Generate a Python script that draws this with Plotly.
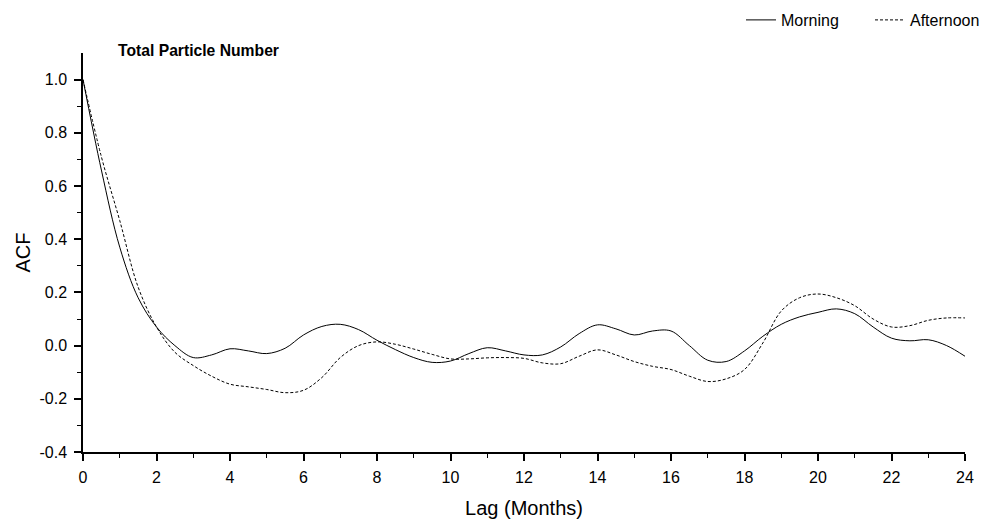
import plotly.graph_objects as go

lag = [i * 0.5 for i in range(49)]

morning = [1.0, 0.66, 0.37, 0.18, 0.07, 0.0, -0.045, -0.035, -0.012, -0.02,
           -0.03, -0.01, 0.04, 0.072, 0.08, 0.06, 0.02, -0.015, -0.045, -0.063,
           -0.058, -0.03, -0.008, -0.02, -0.035, -0.035, -0.005, 0.045, 0.078, 0.063,
           0.04, 0.055, 0.055, 0.0, -0.055, -0.06, -0.02, 0.035, 0.08, 0.108,
           0.125, 0.138, 0.12, 0.07, 0.028, 0.018, 0.022, 0.0, -0.04]

afternoon = [1.0, 0.71, 0.47, 0.22, 0.07, -0.025, -0.075, -0.115, -0.145, -0.155,
             -0.165, -0.177, -0.168, -0.12, -0.045, 0.0, 0.014, 0.005, -0.013, -0.033,
             -0.05, -0.05, -0.046, -0.045, -0.048, -0.065, -0.068, -0.04, -0.016, -0.035,
             -0.06, -0.078, -0.09, -0.115, -0.135, -0.125, -0.09, 0.01, 0.13, 0.18,
             0.194, 0.18, 0.15, 0.1, 0.07, 0.075, 0.095, 0.104, 0.104]

x_ticks = list(range(0, 25, 2))
y_ticks = [-0.4, -0.2, 0.0, 0.2, 0.4, 0.6, 0.8, 1.0]
y_tick_labels = ["-0.4", "-0.2", "0.0", "0.2", "0.4", "0.6", "0.8", "1.0"]
y_minor = [-0.3, -0.1, 0.1, 0.3, 0.5, 0.7, 0.9]

font = "Liberation Sans, Arial, sans-serif"

fig = go.Figure()
fig.add_trace(go.Scatter(x=lag, y=morning, mode="lines", name="Morning",
                         line=dict(color="black", width=1, shape="spline", smoothing=1.0)))
fig.add_trace(go.Scatter(x=lag, y=afternoon, mode="lines", name="Afternoon",
                         line=dict(color="black", width=1, shape="spline", smoothing=1.0,
                                   dash="3px,2px")))

L, R, T, B = 83, 19, 53, 73
H = 525 - T - B
fig.update_layout(
    width=984, height=525,
    margin=dict(l=L, r=R, t=T, b=B, autoexpand=False),
    paper_bgcolor="white", plot_bgcolor="white",
    font=dict(family=font, size=16, color="black"),
    showlegend=True,
    legend=dict(orientation="h", x=741 / 984, xref="container", xanchor="left",
                y=1.0 - 20 / 525, yref="container", yanchor="middle",
                font=dict(size=16, family=font), itemwidth=30,
                entrywidth=84, entrywidthmode="pixels",
                bgcolor="rgba(0,0,0,0)", traceorder="normal"),
    annotations=[dict(text="<b>Total Particle Number</b>",
                      x=(116 - L) / (984 - L - R), xref="paper", xanchor="left",
                      y=(525 - B - 51) / H, yref="paper", yanchor="middle",
                      showarrow=False, font=dict(size=15.7, family=font))],
)

fig.update_xaxes(range=[0, 24], tickvals=x_ticks, showgrid=False, zeroline=False,
                 showline=True, linecolor="black", linewidth=1.5,
                 ticks="outside", ticklen=7, tickwidth=1.5, tickcolor="black",
                 ticklabelstandoff=3,
                 minor=dict(dtick=1, ticks="outside", ticklen=4, tickwidth=1.2, tickcolor="black"),
                 title=dict(text="Lag (Months)", font=dict(size=20), standoff=16),
                 tickfont=dict(size=16))
fig.update_yaxes(range=[-0.4, 1.1], tickvals=y_ticks, ticktext=y_tick_labels,
                 showgrid=False, zeroline=False,
                 showline=True, linecolor="black", linewidth=1.5,
                 ticks="outside", ticklen=7, tickwidth=1.5, tickcolor="black",
                 ticklabelstandoff=4,
                 minor=dict(tickvals=y_minor, ticks="outside",
                            ticklen=4, tickwidth=1.2, tickcolor="black"),
                 title=dict(text="ACF", font=dict(size=20), standoff=3),
                 tickfont=dict(size=16))

fig.write_html("out.html")
